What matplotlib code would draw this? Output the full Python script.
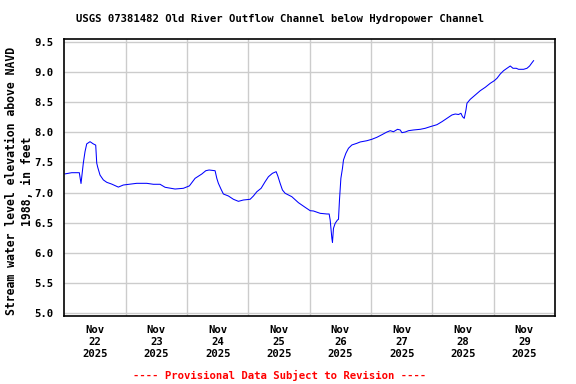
import matplotlib
matplotlib.use("Agg")
import matplotlib.pyplot as plt
import matplotlib.dates as mdates
import numpy as np
from datetime import datetime, timedelta

# Hours since 2025-11-22 00:00 and water level (ft)
hours = [0.27, 2.9, 5.87, 6.54, 7.44, 8.1, 8.77, 10.06, 11.35, 12.29, 12.69, 13.08,
         13.98, 15.27, 16.6, 18.56, 21.14, 23.1, 28.35, 32.26, 34.85, 37.47, 39.43,
         43.34, 46.59, 48.94, 51.17, 53.79, 55.36, 56.65, 59.0, 59.67, 60.29, 61.35,
         62.25, 64.21, 66.17, 68.12, 70.08, 72.71, 74.0, 75.33, 77.01, 78.58, 79.87,
         81.44, 82.89, 83.55, 84.45, 85.35, 86.41, 89.03, 91.62, 94.24, 96.2, 97.49,
         100.11, 102.73, 103.63, 104.03, 104.69, 104.93, 105.32, 105.99, 106.89,
         107.28, 107.67, 108.22, 108.84, 109.24, 110.17, 111.19, 112.52, 114.48,
         115.77, 118.4, 120.35, 122.31, 124.27, 126.23, 127.52, 128.81, 130.38,
         131.43, 132.1, 133.39, 134.68, 136.64, 139.26, 141.22, 143.18, 145.8,
         147.76, 149.72, 151.67, 152.97, 154.26, 155.2, 155.82, 156.49, 157.16,
         157.55, 158.84, 160.8, 162.76, 164.71, 166.67, 168.24, 169.29, 170.59,
         171.88, 173.21, 174.5, 175.56, 176.85, 177.75, 179.71, 181.04, 182.06,
         183.0, 183.62]
levels = [7.31, 7.33, 7.33, 7.15, 7.49, 7.68, 7.81, 7.847, 7.81, 7.79, 7.49, 7.42,
          7.29, 7.21, 7.17, 7.14, 7.09, 7.125, 7.153, 7.153, 7.137, 7.137, 7.087,
          7.058, 7.07, 7.11, 7.236, 7.308, 7.363, 7.375, 7.363, 7.236, 7.153, 7.053,
          6.975, 6.942, 6.887, 6.853, 6.875, 6.887, 6.942, 7.013, 7.07, 7.18, 7.263,
          7.32, 7.347, 7.275, 7.153, 7.042, 6.987, 6.93, 6.83, 6.753, 6.697, 6.692,
          6.653, 6.642, 6.642, 6.542, 6.236, 6.17, 6.403, 6.487, 6.542,
          6.553, 6.875, 7.236, 7.403, 7.542, 7.653, 7.737, 7.792, 7.82,
          7.842, 7.863, 7.887, 7.92, 7.963, 8.008, 8.03, 8.013, 8.053,
          8.042, 7.997, 8.008, 8.03, 8.042, 8.053, 8.07, 8.097, 8.13,
          8.18, 8.236, 8.292, 8.308, 8.30, 8.32, 8.263, 8.236, 8.375,
          8.487, 8.553, 8.625, 8.697, 8.753, 8.82, 8.863, 8.903, 8.975,
          9.03, 9.07, 9.108, 9.07, 9.07, 9.053, 9.053, 9.07, 9.108,
          9.163, 9.197]
day_labels = ["Nov\n22\n2025", "Nov\n23\n2025", "Nov\n24\n2025", "Nov\n25\n2025",
              "Nov\n26\n2025", "Nov\n27\n2025", "Nov\n28\n2025", "Nov\n29\n2025"]
y_ticks = [5.0, 5.5, 6.0, 6.5, 7.0, 7.5, 8.0, 8.5, 9.0, 9.5]

start = datetime(2025, 11, 22)
times = [start + timedelta(hours=h) for h in hours]

FONT = dict(family="DejaVu Sans Mono", weight="bold", size=7.7)

fig = plt.figure(figsize=(5.76, 3.84), dpi=100)
ax = fig.add_axes([64.3/576, 1-315.7/384, (555-64.3)/576, (315.7-39.3)/384])

ax.plot(times, levels, color="#0000ff", linewidth=0.75)

ax.set_xlim(start, start + timedelta(days=8))
ax.set_ylim(4.947, 9.553)

noon = [mdates.date2num(start + timedelta(days=i, hours=12)) for i in range(8)]
mid = [mdates.date2num(start + timedelta(days=i)) for i in range(1, 8)]
ax.set_xticks(noon)
ax.set_xticklabels(day_labels, fontdict=FONT, linespacing=1.25)
ax.set_xticks(mid, minor=True)
ax.set_yticks(y_ticks)
ax.set_yticklabels([f"{v:.1f}" for v in y_ticks], fontdict=FONT)

ax.grid(False)
ax.grid(True, which="minor", axis="x", color="#cccccc", linewidth=1.0)
ax.grid(True, which="major", axis="y", color="#cccccc", linewidth=1.0)
ax.set_axisbelow(True)
ax.tick_params(axis="both", which="both", length=0)
ax.tick_params(axis="x", pad=7)
ax.tick_params(axis="y", pad=8)

for s in ax.spines.values():
    s.set_linewidth(1.2)
    s.set_color("black")

fig.text(280/576, 1-19/384, "USGS 07381482 Old River Outflow Channel below Hydropower Channel",
         ha="center", va="center", **FONT)
fig.text(19.5/576, 1-181/384, "Stream water level elevation above NAVD\n1988, in feet",
         ha="center", va="center", rotation=90, linespacing=1.35, multialignment="center",
         family="DejaVu Sans Mono", weight="bold", size=8.3)
fig.text(280/576, 1-375/384, "---- Provisional Data Subject to Revision ----",
         ha="center", va="center", color="red", **FONT)

fig.savefig("out.png", dpi=100)
